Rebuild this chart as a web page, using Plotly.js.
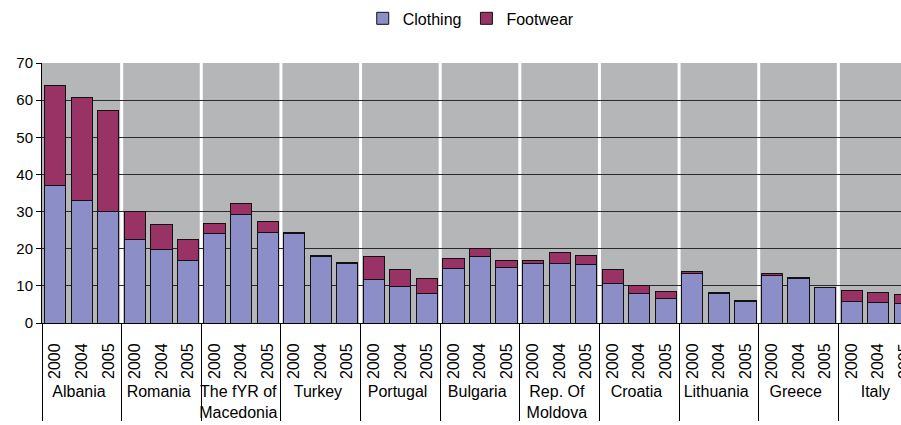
<!DOCTYPE html>
<html>
<head>
<meta charset="utf-8">
<script src="https://cdn.plot.ly/plotly-3.0.1.min.js"></script>
<style>
html,body{margin:0;padding:0;width:901px;height:425px;overflow:hidden;background:#fff;}
#chart{width:920px;height:425px;}
</style>
</head>
<body>
<div id="chart"></div>
<script>
var countries = ["Albania","Romania","The fYR of<br>Macedonia","Turkey","Portugal","Bulgaria","Rep. Of<br>Moldova","Croatia","Lithuania","Greece","Italy"];
var years = ["2000","2004","2005"];
var clothing = [37.0,33.0,30.1, 22.4,19.9,16.7, 24.0,29.1,24.3, 24.0,17.9,16.0, 11.6,9.8,8.0, 14.6,17.9,15.0, 15.9,16.0,15.7, 10.6,8.0,6.6, 13.4,7.9,5.9, 12.8,12.1,9.5, 5.8,5.5,5.2];
var footwear = [26.9,27.6,27.2, 7.7,6.6,5.8, 2.9,3.2,3.0, 0.4,0.3,0.4, 6.2,4.5,4.1, 2.7,2.2,1.9, 0.8,3.0,2.5, 3.7,2.0,1.9, 0.5,0.3,0.1, 0.4,0.1,0.1, 3.0,2.7,2.6];
var yTicks = [0,10,20,30,40,50,60,70];

var outer = [], inner = [];
countries.forEach(function(c){ years.forEach(function(y){ outer.push(c); inner.push(y); }); });

var font = "Liberation Sans, Arial, sans-serif";
var traces = [
  {type:'bar', name:'Clothing', x:[outer, inner], y:clothing,
   marker:{color:'#8c8ec8', line:{color:'#111', width:1}}},
  {type:'bar', name:'Footwear', x:[outer, inner], y:footwear,
   marker:{color:'#993366', line:{color:'#111', width:1}}}
];

var shapes = [];
for (var k = 1; k < countries.length; k++) {
  var xb = k * years.length - 0.5;
  shapes.push({type:'line', xref:'x', yref:'paper', x0:xb, x1:xb, y0:0, y1:1,
    layer:'below', line:{color:'#ffffff', width:3}});
}

var layout = {
  width:920, height:425,
  margin:{l:42, r:2, t:62, b:102},
  barmode:'stack', bargap:0.2,
  paper_bgcolor:'#ffffff', plot_bgcolor:'#b4b6b8',
  font:{family:font, size:15, color:'#000'},
  showlegend:true,
  legend:{orientation:'h', x:0.49, xanchor:'center', y:1.167, yanchor:'middle',
    itemwidth:30,
    font:{family:font, size:16, color:'#000'}, bgcolor:'rgba(0,0,0,0)', traceorder:'normal'},
  xaxis:{type:'multicategory', tickangle:-90, showline:true, linecolor:'#000', linewidth:1,
    showgrid:false, ticks:'', ticklabelstandoff:13,
    showdividers:true, dividercolor:'#000', dividerwidth:1,
    tickfont:{family:font, size:16, color:'#000'}},
  yaxis:{range:[0,70], tickvals:yTicks, ticktext:yTicks.map(String), showline:true,
    linecolor:'#000', linewidth:1, ticks:'outside', ticklen:5, tickcolor:'#000',
    showgrid:true, gridcolor:'#2a2a2a', gridwidth:1, zeroline:false,
    tickfont:{family:font, size:15, color:'#000'}},
  shapes:shapes
};

Plotly.newPlot('chart', traces, layout, {displayModeBar:false, staticPlot:true});
</script>
</body>
</html>
